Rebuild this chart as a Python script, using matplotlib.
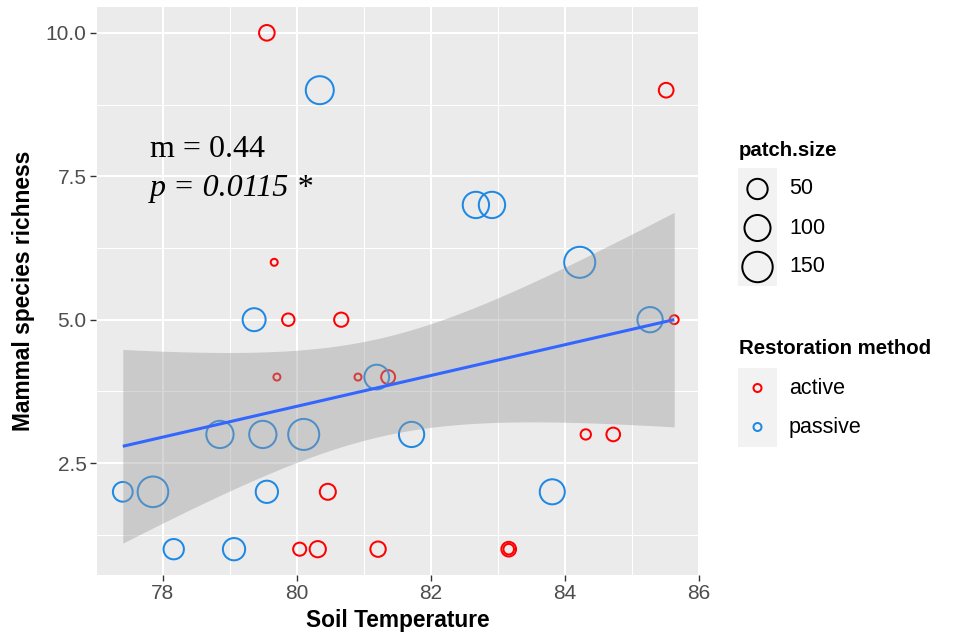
import numpy as np
import matplotlib
matplotlib.use("Agg")
import matplotlib.pyplot as plt
from matplotlib.patches import Rectangle

# ---------------- data ----------------
active_temp = [79.55, 85.51, 79.66, 79.87, 80.66, 79.70, 80.91, 81.36, 85.63,
               84.31, 84.72, 80.46, 80.04, 80.31, 81.21, 83.16, 83.16]
active_rich = [10, 9, 6, 5, 5, 4, 4, 4, 5, 3, 3, 2, 1, 1, 1, 1, 1]
active_patch = [22, 18, 2, 10, 16, 2, 2, 15, 3, 5, 14, 24, 12, 25, 21, 18, 5.5]

passive_temp = [80.34, 82.67, 82.91, 84.22, 79.36, 85.27, 81.19, 78.85, 79.49,
                80.10, 81.71, 77.40, 77.85, 79.55, 83.81, 78.16, 79.06]
passive_rich = [9, 7, 7, 6, 5, 5, 4, 3, 3, 3, 3, 2, 2, 2, 2, 1, 1]
passive_patch = [121, 103, 103, 158, 71, 92, 87, 113, 113, 158, 92, 46, 153, 65, 90, 50, 65]

size_breaks = [50, 100, 150]
method_labels = ["active", "passive"]
method_colors = ["#FF0000", "#1E88E5"]
x_ticks = [78, 80, 82, 84, 86]
x_minor = [77, 79, 81, 83, 85]
y_ticks = [2.5, 5.0, 7.5, 10.0]
y_minor = [1.25, 3.75, 6.25, 8.75]
slope_label = "m = 0.44"
p_label = "p = 0.0115 *"
x_title = "Soil Temperature"
y_title = "Mammal species richness"

# ---------------- layout helpers ----------------
W, H, DPI = 956, 636, 100
PX = 72.0 / DPI  # points per pixel
LW_PX = 2.0


def marker_s(v):
    outer = 9.0 + np.sqrt(3.7 * (np.asarray(v, float) - 2.0))
    return ((outer - LW_PX) * PX) ** 2


fig = plt.figure(figsize=(W / DPI, H / DPI), dpi=DPI)
fig.patch.set_facecolor("white")
L, R, T, B = 96, 699, 7, 575
ax = fig.add_axes([L / W, 1 - B / H, (R - L) / W, (B - T) / H])
ax.set_facecolor("#EBEBEB")
for s in ax.spines.values():
    s.set_visible(False)

# grid
for xv in x_minor:
    ax.axvline(xv, color="white", lw=0.75, zorder=0.5)
for yv in y_minor:
    ax.axhline(yv, color="white", lw=0.75, zorder=0.5)
for xv in x_ticks:
    ax.axvline(xv, color="white", lw=1.45, zorder=0.6)
for yv in y_ticks:
    ax.axhline(yv, color="white", lw=1.45, zorder=0.6)

# points
ax.scatter(active_temp, active_rich, s=marker_s(active_patch), facecolors="none",
           edgecolors=method_colors[0], linewidths=LW_PX * PX, zorder=2)
ax.scatter(passive_temp, passive_rich, s=marker_s(passive_patch), facecolors="none",
           edgecolors=method_colors[1], linewidths=LW_PX * PX, zorder=2)

# linear fit with 95% CI
xa = np.array(active_temp + passive_temp, float)
ya = np.array(active_rich + passive_rich, float)
n = len(xa)
b1, b0 = np.polyfit(xa, ya, 1)
resid = ya - (b0 + b1 * xa)
df = n - 2
s_res = np.sqrt(np.sum(resid ** 2) / df)
xbar = xa.mean()
sxx = np.sum((xa - xbar) ** 2)
z = 1.959964
tq = z + (z**3 + z) / (4 * df) + (5 * z**5 + 16 * z**3 + 3 * z) / (96 * df**2)
xg = np.linspace(xa.min(), xa.max(), 80)
yg = b0 + b1 * xg
se = s_res * np.sqrt(1.0 / n + (xg - xbar) ** 2 / sxx)
ax.fill_between(xg, yg - tq * se, yg + tq * se, color="#999999", alpha=0.4,
                lw=0, zorder=3)
ax.plot(xg, yg, color="#3366FF", lw=2.2, zorder=4, solid_capstyle="butt")

ax.set_xlim(77.0, 86.0)
ax.set_ylim(0.55, 10.45)
ax.set_xticks(x_ticks)
ax.set_yticks(y_ticks)
ax.set_xticklabels([str(v) for v in x_ticks])
ax.set_yticklabels([f"{v:.1f}" for v in y_ticks])
ax.tick_params(axis="both", length=4.2, width=1.0, color="#333333",
               labelcolor="#4D4D4D", labelsize=15, pad=2.5)
for lab in ax.get_xticklabels() + ax.get_yticklabels():
    lab.set_family("Liberation Sans")

ax.set_xlabel(x_title, fontsize=16.4, fontweight="bold", family="Liberation Sans",
              labelpad=4)
ax.set_ylabel(y_title, fontsize=16.4, fontweight="bold", family="Liberation Sans",
              labelpad=8)

# annotation
ax.text(77.8, 7.83, slope_label, family="Liberation Serif", fontsize=23,
        va="baseline", ha="left", zorder=5)
ax.text(77.8, 7.15, p_label, family="Liberation Serif", style="italic",
        fontsize=23, va="baseline", ha="left", zorder=5)

# ---------------- legends (pixel layout axes) ----------------
lg = fig.add_axes([0, 0, 1, 1], facecolor="none")
lg.set_xlim(0, W)
lg.set_ylim(H, 0)
lg.axis("off")

kx0, kx1 = 738, 777
lg.text(739, 150, "patch.size", fontsize=14.7, fontweight="bold",
        family="Liberation Sans", va="center", ha="left")
lg.add_patch(Rectangle((kx0, 168), kx1 - kx0, 118, facecolor="#F2F2F2",
                       edgecolor="none"))
size_key_y = [189, 228, 267]
lg.scatter([(kx0 + kx1) / 2] * len(size_breaks), size_key_y,
           s=marker_s(size_breaks), facecolors="none", edgecolors="black",
           linewidths=LW_PX * PX)
for yk, v in zip(size_key_y, size_breaks):
    lg.text(789, yk, str(v), fontsize=15.5, family="Liberation Sans",
            va="center", ha="left")

lg.text(739, 348, "Restoration method", fontsize=14.7, fontweight="bold",
        family="Liberation Sans", va="center", ha="left")
lg.add_patch(Rectangle((kx0, 368), kx1 - kx0, 79, facecolor="#F2F2F2",
                       edgecolor="none"))
meth_key_y = [388, 427]
for yk, lab, col in zip(meth_key_y, method_labels, method_colors):
    lg.scatter([(kx0 + kx1) / 2], [yk], s=((10 - LW_PX) * PX) ** 2,
               facecolors="none", edgecolors=col, linewidths=LW_PX * PX)
    lg.text(789, yk, lab, fontsize=15.5, family="Liberation Sans",
            va="center", ha="left")

fig.savefig("out.png", dpi=DPI)
